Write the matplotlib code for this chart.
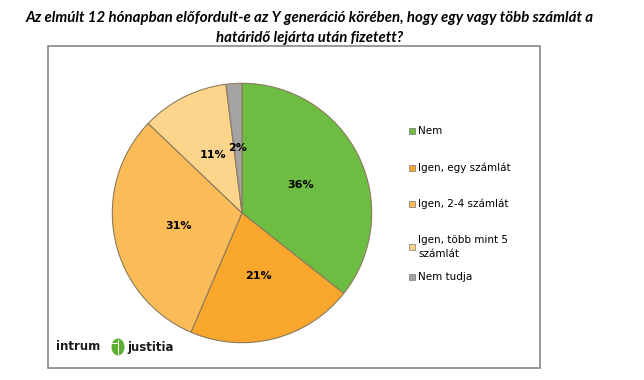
import matplotlib
matplotlib.use("Agg")
import matplotlib.pyplot as plt
from matplotlib.patches import Rectangle, Ellipse

# Adatok
labels = ["Nem", "Igen, egy számlát", "Igen, 2-4 számlát",
          "Igen, több mint 5\nszámlát", "Nem tudja"]
values = [36, 21, 31, 11, 2]
colors = ["#6cbd41", "#f9a72c", "#fbbc58", "#fdd48b", "#a3a3a3"]

W, H = 644, 380
fig = plt.figure(figsize=(W / 100, H / 100), dpi=100)
fig.patch.set_facecolor("white")


def fx(px):
    return px / W


def fy(py):
    return 1 - py / H


# Rahmen
fig.patches.append(Rectangle((fx(48), fy(368)), fx(540) - fx(48), fy(46) - fy(368),
                             transform=fig.transFigure, fill=False,
                             edgecolor="#888888", linewidth=1.2, zorder=0))

# Titel
fig.text(fx(310), fy(18), "Az elmúlt 12 hónapban előfordult-e az Y generáció körében, hogy egy vagy több számlát a",
         ha="center", va="center", fontsize=10.8, fontweight="bold", style="italic",
         family="Lato", color="black")
fig.text(fx(310), fy(38), "határidő lejárta után fizetett?",
         ha="center", va="center", fontsize=10.8, fontweight="bold", style="italic",
         family="Lato", color="black")

# Kreis
cx, cy, r = 242, 213, 131
ax = fig.add_axes([fx(cx - r), fy(cy + r), 2 * r / W, 2 * r / H])
wedges, texts, autotexts = ax.pie(values, colors=colors, startangle=90,
                                  counterclock=False, autopct="%d",
                                  pctdistance=0.5,
                                  wedgeprops=dict(edgecolor="#8c7a5e", linewidth=0.8))
for t, v in zip(autotexts, values):
    t.set_text(f"{v}%")
    t.set_fontsize(8)
    t.set_fontweight("bold")
    t.set_color("black")
ax.set_xlim(-1.01, 1.01)
ax.set_ylim(-1.01, 1.01)
ax.set_aspect("equal")
ax.axis("off")

# Legende
leg_y = [131, 168, 204, 247, 277]
for lab, col, y in zip(labels, colors, leg_y):
    fig.patches.append(Rectangle((fx(409), fy(y + 3)), 6 / W, 6 / H,
                                 transform=fig.transFigure, facecolor=col,
                                 edgecolor="#777777", linewidth=0.5))
    fig.text(fx(418), fy(y), lab, ha="left", va="center", fontsize=7.5,
             color="black", linespacing=1.6)

# Logo
fig.text(fx(56), fy(347), "intrum", ha="left", va="center", fontsize=8.5,
         fontweight="bold", color="#1a1a1a")
fig.text(fx(127), fy(347), "justitia", ha="left", va="center", fontsize=8.5,
         fontweight="bold", color="#1a1a1a")
fig.patches.append(Ellipse((fx(118), fy(347)), 13 / W, 17 / H,
                           transform=fig.transFigure, facecolor="#5cb030",
                           edgecolor="none"))
fig.patches.append(Rectangle((fx(117.5), fy(355)), 1.5 / W, 15 / H,
                             transform=fig.transFigure, facecolor="white",
                             edgecolor="none"))
fig.patches.append(Rectangle((fx(112), fy(344)), 7 / W, 1.5 / H,
                             transform=fig.transFigure, facecolor="white",
                             edgecolor="none"))

fig.savefig("out.png", dpi=100, facecolor="white")
